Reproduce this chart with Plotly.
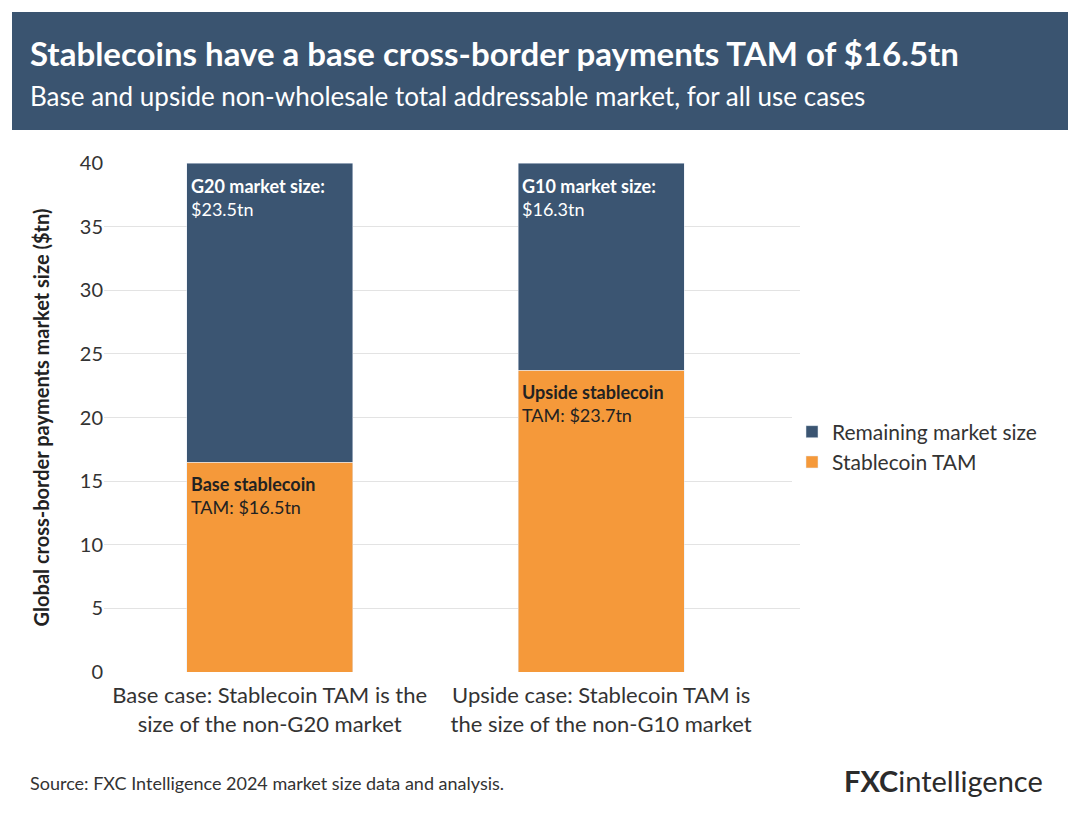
import plotly.graph_objects as go

categories = ["Base case: Stablecoin TAM is the<br>size of the non-G20 market",
              "Upside case: Stablecoin TAM is<br>the size of the non-G10 market"]
stablecoin_tam = [16.5, 23.7]
remaining = [23.5, 16.3]
tam_labels = ["<b>Base stablecoin</b><br>TAM: $16.5tn", "<b>Upside stablecoin</b><br>TAM: $23.7tn"]
rem_labels = ["<b>G20 market size:</b><br>$23.5tn", "<b>G10 market size:</b><br>$16.3tn"]

ORANGE = "#f5993a"
NAVY = "#3b5572"
FONT = "Lato"

OFF = 8
W, H = 1080, 818
L, R, T, B = 104 - OFF, 800 - OFF, 163 - OFF, 672 - OFF

def px(x):
    return (x - OFF - L) / (R - L)

def py(y):
    return (B - (y - OFF)) / (B - T)

fig = go.Figure()
fig.add_bar(x=categories, y=stablecoin_tam, name="Stablecoin TAM", marker_color=ORANGE, width=0.5)
fig.add_bar(x=categories, y=remaining, name="Remaining market size", marker_color=NAVY, width=0.5)

ann = []
for i, c in enumerate(categories):
    ann.append(dict(x=i - 0.245, y=stablecoin_tam[i] - 0.7, xref="x", yref="y", text=tam_labels[i],
                    showarrow=False, xanchor="left", yanchor="top", align="left",
                    font=dict(family=FONT, size=18, color="#222222")))
    ann.append(dict(x=i - 0.245, y=39.2, xref="x", yref="y", text=rem_labels[i],
                    showarrow=False, xanchor="left", yanchor="top", align="left",
                    font=dict(family=FONT, size=18, color="white")))

ann += [
    dict(x=px(28), y=py(53), xref="paper", yref="paper", text="<b>Stablecoins have a base cross-border payments TAM of $16.5tn</b>",
         showarrow=False, xanchor="left", yanchor="middle", font=dict(family=FONT, size=33, color="white")),
    dict(x=px(28), y=py(96), xref="paper", yref="paper", text="Base and upside non-wholesale total addressable market, for all use cases",
         showarrow=False, xanchor="left", yanchor="middle", font=dict(family=FONT, size=26, color="white")),
    dict(x=px(28), y=py(783), xref="paper", yref="paper", text="Source: FXC Intelligence 2024 market size data and analysis.",
         showarrow=False, xanchor="left", yanchor="middle", font=dict(family=FONT, size=18, color="#333333")),
    dict(x=px(1045), y=py(780), xref="paper", yref="paper", text="<b>FXC</b>intelligence",
         showarrow=False, xanchor="right", yanchor="middle", font=dict(family=FONT, size=29, color="#2b2b2b")),
]

fig.update_layout(
    width=W, height=H, barmode="stack", plot_bgcolor="white", paper_bgcolor="white",
    margin=dict(l=L, r=W - R, t=T, b=H - B, pad=0),
    font=dict(family=FONT, size=18, color="#333333"),
    xaxis=dict(range=[-0.5, 1.6], tickfont=dict(size=22, color="#333333"), showgrid=False, ticks="", showline=False,
               ticklabelstandoff=8),
    yaxis=dict(range=[0, 40], dtick=5, gridcolor="#e3e3e3", tickfont=dict(size=20, color="#333333"),
               zeroline=False, ticks="", ticklen=12, tickcolor="white",
               title=dict(text="<b>Global cross-border payments market size ($tn)</b>", font=dict(size=20, color="#222222"), standoff=24)),
    legend=dict(x=px(792), y=py(447), xanchor="left", yanchor="middle", traceorder="reversed",
                font=dict(size=21, color="#333333"), itemwidth=30, tracegroupgap=4),
    annotations=ann,
    shapes=[dict(type="rect", xref="paper", yref="paper", x0=px(12), x1=px(1068), y0=py(12), y1=py(130),
                 fillcolor="#3a5470", line_width=0, layer="below")],
)

fig.write_html("out.html")
